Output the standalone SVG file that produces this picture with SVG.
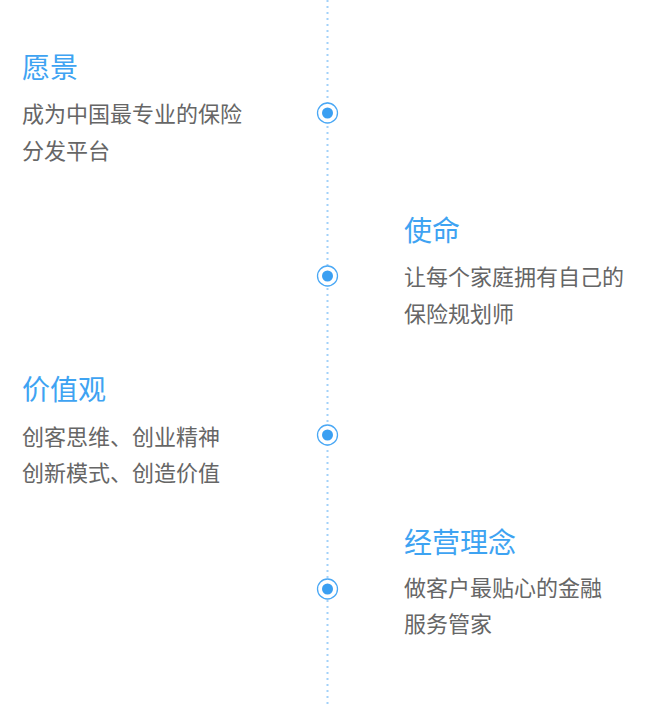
<svg xmlns="http://www.w3.org/2000/svg" width="656" height="706" viewBox="0 0 656 706">
<style>
.t{font-family:"Noto Sans CJK SC","Noto Sans",sans-serif;font-size:28px;fill:#3ea3f2}
.b{font-family:"Noto Sans CJK SC","Noto Sans",sans-serif;font-size:22px;fill:#666666}
.ring{fill:#ffffff;stroke:#4aa8f5;stroke-width:1.3}
.dot{fill:#3a9ff2}
</style>
<rect width="656" height="706" fill="#ffffff"/>
<g id="connectors">
<line x1="327.5" y1="0" x2="327.5" y2="706" stroke="#a2d1fa" stroke-width="2" stroke-dasharray="2 4"/>
</g>
<g id="node-vision">
<circle class="ring" cx="327.5" cy="113" r="10"/><circle class="dot" cx="327.5" cy="113" r="5.5"/>
<text class="t" x="22" y="78">愿景</text>
<text class="b" x="22" y="122">成为中国最专业的保险</text>
<text class="b" x="22" y="159">分发平台</text>
</g>
<g id="node-mission">
<circle class="ring" cx="327.5" cy="276" r="10"/><circle class="dot" cx="327.5" cy="276" r="5.5"/>
<text class="t" x="404" y="241">使命</text>
<text class="b" x="404" y="285">让每个家庭拥有自己的</text>
<text class="b" x="404" y="322">保险规划师</text>
</g>
<g id="node-values">
<circle class="ring" cx="327.5" cy="435" r="10"/><circle class="dot" cx="327.5" cy="435" r="5.5"/>
<text class="t" x="22" y="400">价值观</text>
<text class="b" x="22" y="445">创客思维、创业精神</text>
<text class="b" x="22" y="481">创新模式、创造价值</text>
</g>
<g id="node-philosophy">
<circle class="ring" cx="327.5" cy="589" r="10"/><circle class="dot" cx="327.5" cy="589" r="5.5"/>
<text class="t" x="404" y="553">经营理念</text>
<text class="b" x="404" y="596">做客户最贴心的金融</text>
<text class="b" x="404" y="632">服务管家</text>
</g>
</svg>
